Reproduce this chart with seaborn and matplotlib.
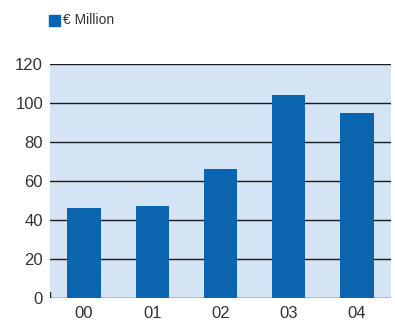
import matplotlib
matplotlib.use("Agg")
import matplotlib.pyplot as plt
import seaborn as sns
import pandas as pd
from matplotlib.patches import Rectangle

years = ["00", "01", "02", "03", "04"]
values = [46, 47, 66, 104, 95]
yticks = [0, 20, 40, 60, 80, 100, 120]
legend_label = "€ Million"

sns.set_theme(style="white")
plt.rcParams['font.family'] = ['Liberation Sans', 'DejaVu Sans']

bar_color = "#0a64ae"
bg_color = "#d4e4f5"
text_color = "#333333"

fig = plt.figure(figsize=(3.95, 3.2), dpi=100)
ax = fig.add_axes([50/395, 22/320, 341/395, 234/320])
df = pd.DataFrame({"year": years, "value": values})
sns.barplot(data=df, x="year", y="value", color=bar_color, width=0.49,
            saturation=1, ax=ax, zorder=3, linewidth=0, edgecolor="none")
ax.set_facecolor(bg_color)
ax.set_ylim(0, 120)
ax.set_xlim(-0.5, len(years) - 0.5)
ax.set_yticks(yticks)
ax.set_yticklabels([str(t) for t in yticks])
for t in yticks:
    ax.axhline(t, color="#1a1a1a", lw=1.0, zorder=2)
ax.axvline(-0.5, ymin=0, ymax=0.025, color="#1a1a1a", lw=1.0, zorder=4)
for s in ax.spines.values():
    s.set_visible(False)
ax.set_xlabel("")
ax.set_ylabel("")
ax.tick_params(axis="y", length=0, labelsize=12, colors=text_color, pad=5)
ax.tick_params(axis="x", length=0, labelsize=12, colors=text_color, pad=6)
ax.grid(False)

fig.patches.append(Rectangle((49/395, 1 - 26/320), 11/395, 11/320,
                             transform=fig.transFigure, color=bar_color))
fig.text(63/395, 1 - 20.5/320, legend_label, fontsize=10, color=text_color,
         va="center", ha="left")

fig.savefig("out.png", dpi=100)
